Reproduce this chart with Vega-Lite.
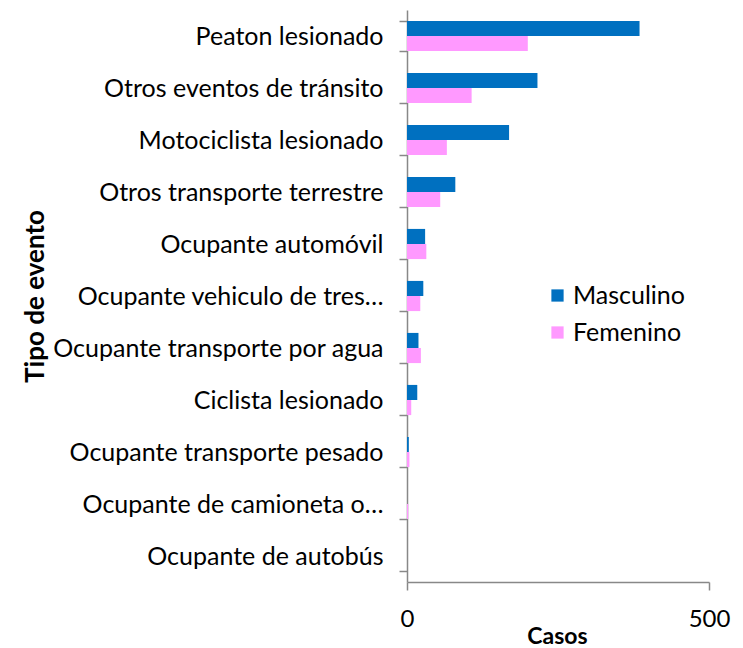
{
  "$schema": "https://vega.github.io/schema/vega-lite/v6.json",
  "autosize": {"type": "none"},
  "padding": {"left": 407, "top": 10, "right": 34, "bottom": 66},
  "width": 302,
  "height": 572,
  "background": "white",
  "config": {
    "view": {"stroke": null},
    "font": "Lato",
    "axis": {"domainColor": "#888888", "tickColor": "#888888", "domainWidth": 1.5, "tickWidth": 1.5, "grid": false, "labelColor": "#000000", "titleColor": "#000000"}
  },
  "data": {
    "values": [
      {"evento": "Peaton lesionado", "sexo": "Masculino", "casos": 385},
      {"evento": "Peaton lesionado", "sexo": "Femenino", "casos": 200},
      {"evento": "Otros eventos de tránsito", "sexo": "Masculino", "casos": 216},
      {"evento": "Otros eventos de tránsito", "sexo": "Femenino", "casos": 107},
      {"evento": "Motociclista lesionado", "sexo": "Masculino", "casos": 169},
      {"evento": "Motociclista lesionado", "sexo": "Femenino", "casos": 66},
      {"evento": "Otros transporte terrestre", "sexo": "Masculino", "casos": 80},
      {"evento": "Otros transporte terrestre", "sexo": "Femenino", "casos": 55},
      {"evento": "Ocupante automóvil", "sexo": "Masculino", "casos": 30},
      {"evento": "Ocupante automóvil", "sexo": "Femenino", "casos": 32},
      {"evento": "Ocupante vehiculo de tres…", "sexo": "Masculino", "casos": 27},
      {"evento": "Ocupante vehiculo de tres…", "sexo": "Femenino", "casos": 22},
      {"evento": "Ocupante transporte por agua", "sexo": "Masculino", "casos": 19},
      {"evento": "Ocupante transporte por agua", "sexo": "Femenino", "casos": 23},
      {"evento": "Ciclista lesionado", "sexo": "Masculino", "casos": 17},
      {"evento": "Ciclista lesionado", "sexo": "Femenino", "casos": 7},
      {"evento": "Ocupante transporte pesado", "sexo": "Masculino", "casos": 3},
      {"evento": "Ocupante transporte pesado", "sexo": "Femenino", "casos": 4},
      {"evento": "Ocupante de camioneta o…", "sexo": "Masculino", "casos": 0},
      {"evento": "Ocupante de camioneta o…", "sexo": "Femenino", "casos": 2},
      {"evento": "Ocupante de autobús", "sexo": "Masculino", "casos": 0},
      {"evento": "Ocupante de autobús", "sexo": "Femenino", "casos": 0}
    ]
  },
  "mark": {"type": "bar"},
  "encoding": {
    "y": {
      "field": "evento",
      "type": "nominal",
      "sort": null,
      "scale": {"paddingInner": 0.42, "paddingOuter": 0.21},
      "axis": {
        "title": "Tipo de evento",
        "tickBand": "extent",
        "tickSize": 8,
        "labelFontSize": 25,
        "labelPadding": 16,
        "labelLimit": 400,
        "titleFontSize": 26,
        "titleFontWeight": "bold",
        "titleAngle": -90,
        "titleX": -372,
        "titleY": 286,
        "titleAlign": "center",
        "titleBaseline": "middle"
      }
    },
    "yOffset": {"field": "sexo", "type": "nominal", "sort": ["Masculino", "Femenino"], "scale": {"paddingInner": 0}},
    "x": {
      "field": "casos",
      "type": "quantitative",
      "scale": {"domain": [0, 500], "nice": false},
      "axis": {
        "title": "Casos",
        "values": [0, 500],
        "tickSize": 8,
        "labelFontSize": 24,
        "labelPadding": 17,
        "labelFlush": false,
        "titleFontSize": 23,
        "titleFontWeight": "bold",
        "titleX": 150,
        "titleY": 43,
        "titleBaseline": "top"
      }
    },
    "color": {
      "field": "sexo",
      "type": "nominal",
      "sort": ["Masculino", "Femenino"],
      "scale": {"domain": ["Masculino", "Femenino"], "range": ["#0070C0", "#FF99FF"]},
      "legend": {
        "title": null,
        "orient": "none",
        "legendX": 138,
        "legendY": 273,
        "symbolType": "square",
        "symbolSize": 150,
        "symbolStrokeWidth": 0,
        "labelFontSize": 25,
        "labelColor": "#000000",
        "rowPadding": 11,
        "labelOffset": 3
      }
    }
  }
}
